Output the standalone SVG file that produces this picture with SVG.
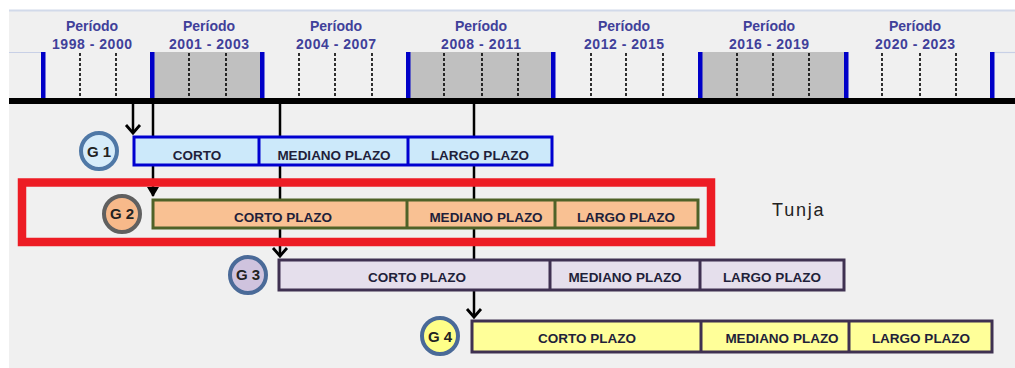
<svg xmlns="http://www.w3.org/2000/svg" width="1015" height="368" viewBox="0 0 1015 368">
  <style>
    .per { font-family: "Liberation Sans", Arial, sans-serif; font-weight: bold; font-size: 14px; fill: #40409a; text-anchor: middle; }
    .lbl { font-family: "Liberation Sans", Arial, sans-serif; font-weight: bold; font-size: 13.5px; fill: #1f1f3a; text-anchor: middle; }
    .gl { font-family: "Liberation Sans", Arial, sans-serif; font-weight: bold; font-size: 15px; fill: #222; text-anchor: middle; }
    .bar { fill: #0000c8; }
    .gray { fill: #c0c0c0; }
    .tick { stroke: #000; stroke-width: 1.6; stroke-dasharray: 3 2; }
    .con { stroke: #000; stroke-width: 2.5; fill: none; }
    .b1 { fill: #cce9fa; stroke: #0000d0; stroke-width: 3; }
    .b2 { fill: #f9c193; stroke: #4f6228; stroke-width: 3; }
    .b3 { fill: #e5dfec; stroke: #3f3151; stroke-width: 3; }
    .b4 { fill: #ffff99; stroke: #3f3151; stroke-width: 3; }
  </style>
  <defs>
    <marker id="chev" markerUnits="userSpaceOnUse" markerWidth="12" markerHeight="16" refX="8" refY="7" orient="auto" overflow="visible">
      <path d="M0,0 L8,7 L0,14" fill="none" stroke="#000" stroke-width="2.8"/>
    </marker>
    <marker id="tri" markerUnits="userSpaceOnUse" markerWidth="12" markerHeight="12" refX="9" refY="6" orient="auto" overflow="visible">
      <path d="M0,0 L10,6 L0,12 z" fill="#000"/>
    </marker>
  </defs>

  <rect x="0" y="0" width="1015" height="368" fill="#ffffff"/>
  <rect x="9" y="10" width="1006" height="358" fill="#f0f0f0"/>
  <line x1="9" y1="10.5" x2="1015" y2="10.5" stroke="#d2daea" stroke-width="2"/>
  <line x1="9" y1="52.5" x2="43" y2="52.5" stroke="#c8d0e6" stroke-width="1.2"/>
  <line x1="992" y1="52.5" x2="1015" y2="52.5" stroke="#c8d0e6" stroke-width="1.2"/>

  <g id="timeline">
    <rect class="gray" x="152" y="52" width="110" height="47"/>
    <rect class="gray" x="408" y="52" width="145" height="47"/>
    <rect class="gray" x="700" y="52" width="146" height="47"/>
    <g class="tick">
      <line x1="80" y1="53" x2="80" y2="99"/><line x1="116" y1="53" x2="116" y2="99"/>
      <line x1="189" y1="53" x2="189" y2="99"/><line x1="226" y1="53" x2="226" y2="99"/>
      <line x1="299" y1="53" x2="299" y2="99"/><line x1="335" y1="53" x2="335" y2="99"/><line x1="372" y1="53" x2="372" y2="99"/>
      <line x1="444" y1="53" x2="444" y2="99"/><line x1="482" y1="53" x2="482" y2="99"/><line x1="518" y1="53" x2="518" y2="99"/>
      <line x1="591" y1="53" x2="591" y2="99"/><line x1="626" y1="53" x2="626" y2="99"/><line x1="663" y1="53" x2="663" y2="99"/>
      <line x1="737" y1="53" x2="737" y2="99"/><line x1="773" y1="53" x2="773" y2="99"/><line x1="809" y1="53" x2="809" y2="99"/>
      <line x1="882" y1="53" x2="882" y2="99"/><line x1="920" y1="53" x2="920" y2="99"/><line x1="956" y1="53" x2="956" y2="99"/>
    </g>
    <rect class="bar" x="41" y="52" width="4.5" height="48"/>
    <rect class="bar" x="150" y="52" width="4.5" height="48"/>
    <rect class="bar" x="260" y="52" width="4.5" height="48"/>
    <rect class="bar" x="406" y="52" width="4.5" height="48"/>
    <rect class="bar" x="551" y="52" width="4.5" height="48"/>
    <rect class="bar" x="698" y="52" width="4.5" height="48"/>
    <rect class="bar" x="844" y="52" width="4.5" height="48"/>
    <rect class="bar" x="990" y="52" width="4.5" height="48"/>
    <rect x="9" y="98" width="1006" height="6" fill="#000"/>
    <g class="per">
      <text x="92" y="31">Período</text><text x="92" y="49" textLength="80" lengthAdjust="spacing">1998 - 2000</text>
      <text x="209" y="31">Período</text><text x="209" y="49" textLength="80" lengthAdjust="spacing">2001 - 2003</text>
      <text x="336" y="31">Período</text><text x="336" y="49" textLength="80" lengthAdjust="spacing">2004 - 2007</text>
      <text x="481" y="31">Período</text><text x="481" y="49" textLength="80" lengthAdjust="spacing">2008 - 2011</text>
      <text x="624" y="31">Período</text><text x="624" y="49" textLength="80" lengthAdjust="spacing">2012 - 2015</text>
      <text x="769" y="31">Período</text><text x="769" y="49" textLength="80" lengthAdjust="spacing">2016 - 2019</text>
      <text x="915" y="31">Período</text><text x="915" y="49" textLength="80" lengthAdjust="spacing">2020 - 2023</text>
    </g>
  </g>

  <g id="connectors">
    <line class="con" x1="133" y1="104" x2="133" y2="133" marker-end="url(#chev)"/>
    <line class="con" x1="153" y1="104" x2="153" y2="196" marker-end="url(#tri)"/>
    <line class="con" x1="280" y1="104" x2="280" y2="256" marker-end="url(#chev)"/>
    <line class="con" x1="474" y1="104" x2="474" y2="317" marker-end="url(#chev)"/>
  </g>

  <g id="G1">
    <circle cx="99" cy="151" r="18" fill="#d6ecfa" stroke="#4f78a6" stroke-width="4"/>
    <text class="gl" x="99" y="157">G 1</text>
    <rect class="b1" x="134" y="137" width="418" height="28"/>
    <line x1="259" y1="137" x2="259" y2="165" stroke="#0000d0" stroke-width="3"/>
    <line x1="408" y1="137" x2="408" y2="165" stroke="#0000d0" stroke-width="3"/>
    <text class="lbl" x="197" y="160">CORTO</text>
    <text class="lbl" x="334" y="160">MEDIANO PLAZO</text>
    <text class="lbl" x="480" y="160">LARGO PLAZO</text>
  </g>

  <g id="G2">
    <circle cx="122" cy="214" r="18" fill="#f7b98a" stroke="#606060" stroke-width="4"/>
    <text class="gl" x="122" y="219">G 2</text>
    <rect class="b2" x="153" y="200" width="545" height="28"/>
    <line x1="407" y1="200" x2="407" y2="228" stroke="#4f6228" stroke-width="3"/>
    <line x1="555" y1="200" x2="555" y2="228" stroke="#4f6228" stroke-width="3"/>
    <text class="lbl" x="283" y="222">CORTO PLAZO</text>
    <text class="lbl" x="486" y="222">MEDIANO PLAZO</text>
    <text class="lbl" x="626" y="222">LARGO PLAZO</text>
  </g>

  <g id="G3">
    <circle cx="248" cy="275" r="18" fill="#cfc3de" stroke="#4a6a98" stroke-width="4"/>
    <text class="gl" x="248" y="280">G 3</text>
    <rect class="b3" x="279" y="260" width="565" height="30"/>
    <line x1="550" y1="260" x2="550" y2="290" stroke="#3f3151" stroke-width="3"/>
    <line x1="700" y1="260" x2="700" y2="290" stroke="#3f3151" stroke-width="3"/>
    <text class="lbl" x="417" y="282">CORTO PLAZO</text>
    <text class="lbl" x="625" y="282">MEDIANO PLAZO</text>
    <text class="lbl" x="772" y="282">LARGO PLAZO</text>
  </g>

  <g id="G4">
    <circle cx="440" cy="336" r="18" fill="#ffff88" stroke="#4a6a98" stroke-width="4"/>
    <text class="gl" x="440" y="342">G 4</text>
    <rect class="b4" x="472" y="321" width="520" height="31"/>
    <line x1="701" y1="321" x2="701" y2="352" stroke="#3f3151" stroke-width="3"/>
    <line x1="849" y1="321" x2="849" y2="352" stroke="#3f3151" stroke-width="3"/>
    <text class="lbl" x="587" y="343">CORTO PLAZO</text>
    <text class="lbl" x="782" y="343">MEDIANO PLAZO</text>
    <text class="lbl" x="921" y="343">LARGO PLAZO</text>
  </g>

  <g id="highlight">
    <rect x="22" y="182.5" width="689" height="59.5" fill="none" stroke="#ed1c24" stroke-width="8.5"/>
  </g>

  <text x="772" y="216" font-family="Liberation Sans, Arial, sans-serif" font-size="18" letter-spacing="1.8" fill="#222">Tunja</text>
</svg>
